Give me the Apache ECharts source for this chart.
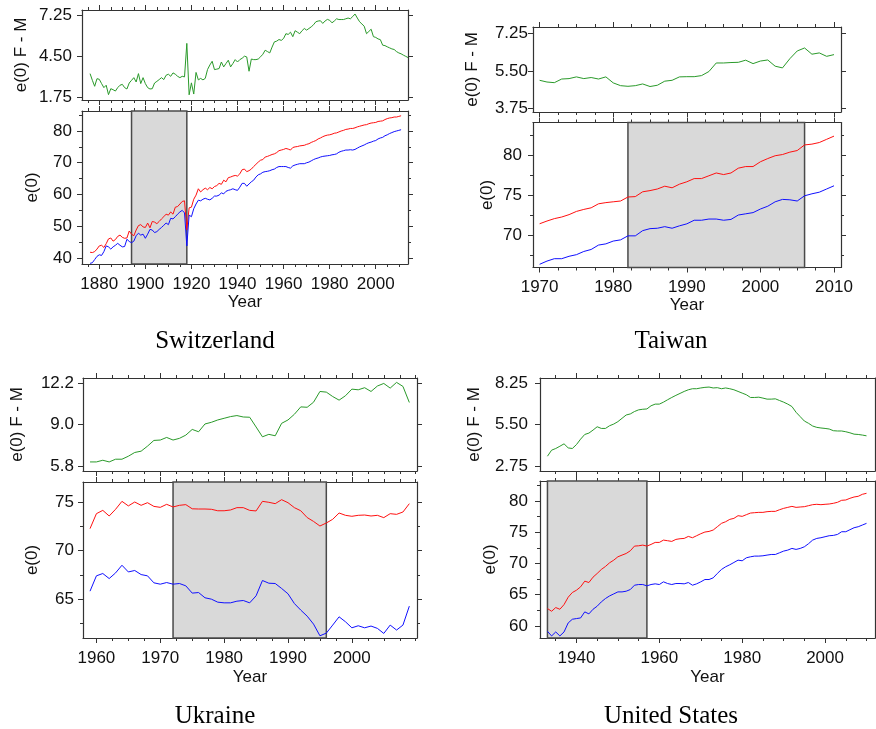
<!DOCTYPE html>
<html><head><meta charset="utf-8">
<script src="https://cdn.jsdelivr.net/npm/echarts@6/dist/echarts.min.js"></script>
<style>html,body{margin:0;padding:0;background:#fff}#c{width:876px;height:729px}</style>
</head><body><div id="c"></div>
<script>
// ---------------- DATA ----------------
const countryNames = ['Switzerland', 'Taiwan', 'Ukraine', 'United States'];

// Switzerland
const swissStart = 1876;          // first year of e(0) series
const swissFemale = [
 41.8,41.7,42.0,42.8,43.8,44.0,43.3,44.5,46.0,46.3,
 45.3,45.8,46.8,47.2,46.5,46.2,46.3,48.5,47.5,47.0,
 48.8,50.2,50.5,49.8,49.6,51.0,49.5,51.5,51.3,50.8,
 51.5,52.3,53.0,53.8,53.5,54.5,53.8,56.0,56.2,57.0,
 57.8,58.0,48.8,55.8,56.0,58.5,59.8,61.8,60.8,61.5,
 62.0,61.5,62.2,61.8,62.5,62.8,63.5,63.2,64.5,64.0,
 65.3,65.5,65.8,66.0,65.8,66.5,67.8,68.0,67.2,67.5,
 68.0,68.8,69.5,70.2,70.8,71.0,71.8,72.0,72.3,72.6,
 72.8,73.2,73.8,74.0,74.2,74.5,74.3,74.0,74.8,75.0,
 75.1,75.3,75.4,75.5,75.8,76.0,76.4,76.7,77.0,77.5,
 77.8,78.2,78.5,78.7,78.8,79.0,79.3,79.4,79.7,80.0,
 80.2,80.5,80.6,80.8,80.8,81.0,81.3,81.5,81.7,81.9,
 82.0,82.3,82.5,82.6,82.7,83.0,83.1,83.2,83.6,83.9,
 84.1,84.2,84.4,84.4,84.6,84.8];
const swissMale = [
 38.3,38.5,39.5,40.5,41.0,40.8,42.0,43.8,43.5,42.8,
 43.5,44.0,44.6,44.0,43.5,43.6,45.9,45.2,44.8,45.3,
 47.0,47.8,47.2,47.5,46.2,47.5,49.0,48.8,48.0,48.3,
 49.0,49.6,50.3,51.0,50.5,52.5,52.3,53.0,53.8,54.5,
 55.0,54.2,43.8,53.5,53.0,55.5,57.0,58.2,58.0,58.5,
 58.8,58.5,58.3,58.8,59.5,59.5,59.8,60.5,60.2,61.0,
 61.3,61.5,61.8,61.5,61.3,62.3,63.5,63.5,62.6,63.3,
 64.0,64.5,65.5,66.2,66.5,67.0,67.2,67.3,67.5,67.8,
 68.0,68.5,68.8,68.8,68.8,68.8,68.5,68.3,69.0,69.3,
 69.5,69.7,69.7,69.7,70.0,70.2,70.6,71.0,71.3,71.5,
 71.8,72.0,72.1,72.2,72.3,72.5,72.6,72.8,73.3,73.6,
 73.8,74.0,74.0,74.1,74.0,74.2,74.6,75.0,75.3,75.6,
 76.0,76.3,76.5,76.8,77.0,77.5,77.8,78.0,78.5,78.8,
 79.2,79.5,79.8,80.0,80.2,80.4];
const swissGapStart = 1876;
const swissGap = [
 3.32,2.87,2.47,2.98,2.94,2.65,2.38,2.54,1.91,2.31,
 2.24,2.15,2.38,2.54,2.60,2.38,2.29,2.69,2.87,3.05,
 2.76,3.32,2.65,3.05,2.65,2.38,2.29,2.31,2.69,2.80,
 2.92,3.05,2.92,3.21,3.28,3.14,3.37,3.28,3.14,3.05,
 3.14,3.10,5.35,1.90,2.70,1.95,3.40,2.90,3.00,2.90,
 3.00,3.60,3.90,4.15,3.59,3.62,3.66,4.10,3.77,4.00,
 4.22,3.77,4.00,4.26,4.10,4.26,4.35,4.49,4.44,3.48,
 4.30,4.26,4.26,4.30,4.45,4.62,4.89,4.80,4.71,5.10,
 5.45,5.50,5.61,5.55,5.68,6.00,5.95,6.10,5.80,6.20,
 6.10,6.00,6.20,6.35,6.24,6.35,6.46,6.60,6.80,6.85,
 6.87,6.69,6.85,6.96,6.90,6.73,6.85,7.00,6.95,6.95,
 6.95,7.00,7.05,7.00,7.15,7.32,7.05,6.80,6.65,6.50,
 6.00,6.15,6.30,5.80,5.75,5.65,5.60,5.23,5.20,5.12,
 5.05,4.98,4.94,4.80,4.71,4.65,4.56,4.48,4.40];
const swissShade = [1894, 1918];
const swissYearTicks = [1880, 1900, 1920, 1940, 1960, 1980, 2000];
const swissE0Ticks = [40, 50, 60, 70, 80];
const swissGapTicks = [1.75, 4.50, 7.25];

// Taiwan
const taiwanStart = 1970;
const taiwanFemale = [
 71.46,71.8,72.1,72.3,72.6,73.0,73.25,73.45,73.95,74.1,
 74.2,74.3,74.8,74.85,75.45,75.6,75.8,76.15,75.95,76.4,
 76.7,77.1,77.1,77.45,77.8,77.6,77.8,78.4,78.6,78.6,
 79.2,79.6,79.95,80.1,80.4,80.6,81.3,81.4,81.6,82.0,
 82.4];
const taiwanMale = [
 66.4,66.8,67.1,67.1,67.4,67.6,68.0,68.25,68.8,68.95,
 69.3,69.45,69.95,69.95,70.6,70.85,70.9,71.1,70.9,71.2,
 71.45,71.9,71.9,72.05,72.05,71.9,72.0,72.55,72.7,72.85,
 73.3,73.65,74.2,74.5,74.45,74.3,74.95,75.2,75.4,75.8,
 76.2];
const taiwanGap = [
 5.07,4.99,4.96,5.13,5.15,5.23,5.15,5.20,5.13,5.23,
 4.95,4.82,4.79,4.82,4.90,4.78,4.84,5.03,5.07,5.23,
 5.24,5.24,5.29,5.48,5.88,5.88,5.90,5.91,6.01,5.85,
 5.97,6.02,5.73,5.65,6.08,6.44,6.58,6.29,6.35,6.19,
 6.27];
const taiwanShade = [1982, 2006];
const taiwanYearTicks = [1970, 1980, 1990, 2000, 2010];
const taiwanE0Ticks = [70, 75, 80];
const taiwanGapTicks = [3.75, 5.50, 7.25];

// Ukraine
const ukraineStart = 1959;
const ukraineFemale = [
 72.26,73.8,74.14,73.56,74.25,75.07,74.6,75.0,74.66,74.93,
 74.55,74.45,74.76,74.49,74.66,74.73,74.3,74.28,74.28,74.25,
 74.1,74.1,74.18,74.42,74.42,74.14,74.08,75.07,74.97,74.83,
 75.24,74.93,74.42,74.1,73.4,73.0,72.53,72.84,73.22,73.87,
 73.63,73.53,73.63,73.66,73.56,73.63,73.39,73.8,73.73,73.97,
 74.83];
const ukraineMale = [
 65.82,67.4,67.64,67.12,67.7,68.49,67.8,67.95,67.53,67.4,
 66.68,66.54,66.71,66.54,66.61,66.37,65.62,65.68,65.14,65.0,
 64.69,64.62,64.62,64.79,64.86,64.62,65.34,66.92,66.64,66.61,
 66.1,65.55,64.55,63.87,63.25,62.43,61.23,61.5,62.33,63.18,
 62.67,62.05,62.26,62.05,62.23,61.99,61.47,62.33,61.82,62.33,
 64.28];
const ukraineGap = [
 6.11,6.11,6.24,6.11,6.32,6.32,6.55,6.84,6.94,7.33,
 7.77,7.80,8.00,7.80,7.93,8.18,8.62,8.44,9.04,9.17,
 9.35,9.48,9.61,9.69,9.58,9.56,8.81,8.05,8.24,8.13,
 9.09,9.35,9.79,10.36,10.33,10.72,11.55,11.50,11.16,10.88,
 11.22,11.73,11.68,11.84,11.55,11.97,12.17,11.81,12.25,11.94,
 10.70];
const ukraineShade = [1972, 1996];
const ukraineYearTicks = [1960, 1970, 1980, 1990, 2000];
const ukraineE0Ticks = [65, 70, 75];
const ukraineGapTicks = [5.8, 9.0, 12.2];

// United States
const usStart = 1933;
const usFemale = [
 62.78,62.35,62.94,62.67,63.42,64.6,65.35,65.72,66.26,67.17,
 66.95,67.81,68.4,69.04,69.52,70.11,70.53,71.07,71.34,71.6,
 72.03,72.78,72.83,72.94,72.78,73.05,73.37,73.37,73.74,73.64,
 73.53,73.85,73.96,74.01,74.33,74.12,74.44,74.76,75.03,75.13,
 75.35,75.88,76.42,76.68,77.06,77.22,77.65,77.54,77.81,78.07,
 78.13,78.18,78.18,78.29,78.34,78.34,78.6,78.82,78.98,79.14,
 78.98,79.04,79.09,79.25,79.41,79.47,79.41,79.47,79.52,79.63,
 79.79,80.11,80.16,80.43,80.64,80.75,81.07,81.23];
const usMale = [
 59.14,58.4,59.04,58.4,59.04,60.48,61.07,61.18,61.28,62.25,
 61.93,62.67,63.16,63.85,64.39,64.81,65.13,65.45,65.45,65.56,
 65.83,66.52,66.63,66.63,66.42,66.63,66.74,66.63,67.06,66.79,
 66.63,66.79,66.79,66.74,66.95,66.52,66.74,67.06,67.43,67.43,
 67.7,68.4,69.04,69.47,69.79,70.16,70.53,70.43,70.91,71.07,
 71.18,71.18,71.23,71.34,71.44,71.44,71.71,71.98,72.14,72.41,
 72.25,72.41,72.67,73.16,73.74,74.01,74.12,74.28,74.44,74.49,
 74.65,75.08,75.08,75.4,75.72,75.88,76.15,76.42];
const usGap = [
 3.40,3.80,3.91,4.06,4.22,3.95,3.91,4.17,4.53,4.84,
 4.93,5.13,5.35,5.24,5.24,5.42,5.53,5.69,5.91,6.13,
 6.20,6.36,6.47,6.51,6.53,6.74,6.85,6.85,6.98,7.14,
 7.29,7.43,7.56,7.69,7.80,7.87,7.87,7.92,7.96,7.98,
 7.92,7.94,7.87,7.92,7.87,7.80,7.69,7.58,7.47,7.29,
 7.29,7.31,7.25,7.18,7.18,7.20,7.09,6.98,6.85,6.69,
 6.31,6.02,5.73,5.58,5.40,5.31,5.27,5.24,5.20,5.09,
 5.07,5.07,5.02,4.95,4.86,4.84,4.80,4.75];
const usShade = [1933, 1957];
const usYearTicks = [1940, 1960, 1980, 2000];
const usE0Ticks = [60, 65, 70, 75, 80];
const usGapTicks = [2.75, 5.50, 8.25];

// ---------------- STYLE / LAYOUT ----------------
const GREEN = '#2a9a2a', RED = '#ff1010', BLUE = '#1010ff', FRAME = '#333';
const FONT = '"Liberation Sans", Arial, sans-serif';
const SERIF = '"Liberation Serif", "Times New Roman", serif';

function pairs(start, vals) { return vals.map((v, i) => [start + i, v]); }
function minorList(range, step, major) {
  const out = [];
  if (!step) return out;
  for (let v = Math.ceil(range[0] / step - 1e-9) * step; v <= range[1] + 1e-9; v += step) {
    const r = +v.toFixed(4);
    if (!major.some(m => Math.abs(m - r) < 1e-6)) out.push(r);
  }
  return out;
}

const panels = [
  {box:[82,10,326,90], xr:[1872.5,2014], yr:[1.55,7.59], xt:swissYearTicks, xs:5, yt:swissGapTicks, ys:0, dec:2,
   ylab:{name:'e(0) F - M', gap:52, margin:10}, lines:[[swissGapStart, swissGap, GREEN]]},
  {box:[82,111,326,153], xr:[1872.5,2014], yr:[38.1,86.3], xt:swissYearTicks, xs:5, yt:swissE0Ticks, ys:5, dec:0,
   ylab:{name:'e(0)', gap:41, margin:10}, xlab:{gap:30, margin:12},
   lines:[[swissStart, swissFemale, RED],[swissStart, swissMale, BLUE]], shade:swissShade},
  {box:[533,27,308,85], xr:[1969.1,2010.95], yr:[3.59,7.56], xt:taiwanYearTicks, xs:2.5, yt:taiwanGapTicks, ys:0, dec:2,
   ylab:{name:'e(0) F - M', gap:52, margin:5}, lines:[[taiwanStart, taiwanGap, GREEN]]},
  {box:[533,122.5,308,145], xr:[1969.1,2010.95], yr:[66.0,84.1], xt:taiwanYearTicks, xs:2.5, yt:taiwanE0Ticks, ys:2.5, dec:0,
   ylab:{name:'e(0)', gap:37, margin:11}, xlab:{gap:27, margin:11},
   lines:[[taiwanStart, taiwanFemale, RED],[taiwanStart, taiwanMale, BLUE]], shade:taiwanShade},
  {box:[83,378,334,93], xr:[1957.9,2010.2], yr:[5.41,12.59], xt:ukraineYearTicks, xs:2.5, yt:ukraineGapTicks, ys:0, dec:1,
   ylab:{name:'e(0) F - M', gap:57, margin:9}, lines:[[ukraineStart, ukraineGap, GREEN]]},
  {box:[83,482,334,156], xr:[1957.9,2010.2], yr:[61.0,77.06], xt:ukraineYearTicks, xs:2.5, yt:ukraineE0Ticks, ys:2.5, dec:0,
   ylab:{name:'e(0)', gap:42, margin:9}, xlab:{gap:31, margin:12},
   lines:[[ukraineStart, ukraineFemale, RED],[ukraineStart, ukraineMale, BLUE]], shade:ukraineShade},
  {box:[540,378,335,93], xr:[1931.2,2012.05], yr:[2.42,8.58], xt:usYearTicks, xs:5, yt:usGapTicks, ys:0, dec:2,
   ylab:{name:'e(0) F - M', gap:57, margin:12}, lines:[[usStart, usGap, GREEN]]},
  {box:[540,481,335,157], xr:[1931.2,2012.05], yr:[58.07,83.2], xt:usYearTicks, xs:5, yt:usE0Ticks, ys:2.5, dec:0,
   ylab:{name:'e(0)', gap:41, margin:12}, xlab:{gap:31, margin:12},
   lines:[[usStart, usFemale, RED],[usStart, usMale, BLUE]], shade:usShade},
];

const titlePos = [[215, 341], [671, 341], [215, 716], [671, 716]];

function mkAxis(gi, pos, range, ticks, len, showLine, label, name) {
  const a = {
    gridIndex: gi, type: 'value', position: pos, min: range[0], max: range[1],
    splitLine: {show: false}, splitArea: {show: false},
    axisLine: {show: showLine, onZero: false, lineStyle: {color: FRAME, width: 1.2}},
    axisTick: {show: ticks.length > 0, inside: false, length: len, customValues: ticks,
               lineStyle: {color: FRAME, width: 1}},
    axisLabel: {show: false},
    axisPointer: {show: false},
    silent: true
  };
  if (label) {
    a.axisLabel = Object.assign({show: true, customValues: ticks, color: '#111',
      fontFamily: FONT, fontSize: 17}, label);
  }
  if (name) {
    a.name = name.text; a.nameLocation = 'middle'; a.nameGap = name.gap;
    a.nameTextStyle = {fontFamily: FONT, fontSize: 17, color: '#111'};
  }
  return a;
}

const grid = [], xAxis = [], yAxis = [], series = [];
panels.forEach((p, gi) => {
  grid.push({left: p.box[0], top: p.box[1], width: p.box[2], height: p.box[3], containLabel: false});
  const xm = minorList(p.xr, p.xs, p.xt);
  const ym = minorList(p.yr, p.ys, p.yt);
  const xi = xAxis.length, yi = yAxis.length;
  xAxis.push(mkAxis(gi, 'bottom', p.xr, p.xt, 5, true,
    p.xlab ? {margin: p.xlab.margin, formatter: v => String(Math.round(v))} : null,
    p.xlab ? {text: 'Year', gap: p.xlab.gap} : null));
  xAxis.push(mkAxis(gi, 'bottom', p.xr, xm, 3, false, null, null));
  xAxis.push(mkAxis(gi, 'top', p.xr, p.xt, 5, true, null, null));
  xAxis.push(mkAxis(gi, 'top', p.xr, xm, 3, false, null, null));
  yAxis.push(mkAxis(gi, 'left', p.yr, p.yt, 5, true,
    {margin: p.ylab.margin, formatter: v => v.toFixed(p.dec)},
    {text: p.ylab.name, gap: p.ylab.gap}));
  yAxis.push(mkAxis(gi, 'left', p.yr, ym, 3, false, null, null));
  yAxis.push(mkAxis(gi, 'right', p.yr, p.yt, 5, true, null, null));
  yAxis.push(mkAxis(gi, 'right', p.yr, ym, 3, false, null, null));
  p.lines.forEach((ln, li) => {
    const s = {
      type: 'line', xAxisIndex: xi, yAxisIndex: yi, data: pairs(ln[0], ln[1]),
      showSymbol: false, symbol: 'none', silent: true, clip: true, z: 3,
      lineStyle: {color: ln[2], width: 1}, itemStyle: {color: ln[2]}
    };
    if (li === 0 && p.shade) {
      s.markArea = {silent: true, z: 1,
        itemStyle: {color: '#d9d9d9', borderColor: '#4a4a4a', borderWidth: 1.5},
        data: [[{xAxis: p.shade[0]}, {xAxis: p.shade[1]}]]};
    }
    series.push(s);
  });
});

const graphic = countryNames.map((t, i) => ({
  type: 'text', x: titlePos[i][0], y: titlePos[i][1], silent: true,
  style: {text: t, fill: '#000', font: '25px ' + SERIF,
          align: 'center', verticalAlign: 'middle', textAlign: 'center', textVerticalAlign: 'middle'}
}));

const chart = echarts.init(document.getElementById('c'), null, {renderer: 'canvas'});
chart.setOption({
  animation: false,
  backgroundColor: '#ffffff',
  textStyle: {fontFamily: FONT},
  tooltip: {show: false},
  grid, xAxis, yAxis, series, graphic
});
</script></body></html>
